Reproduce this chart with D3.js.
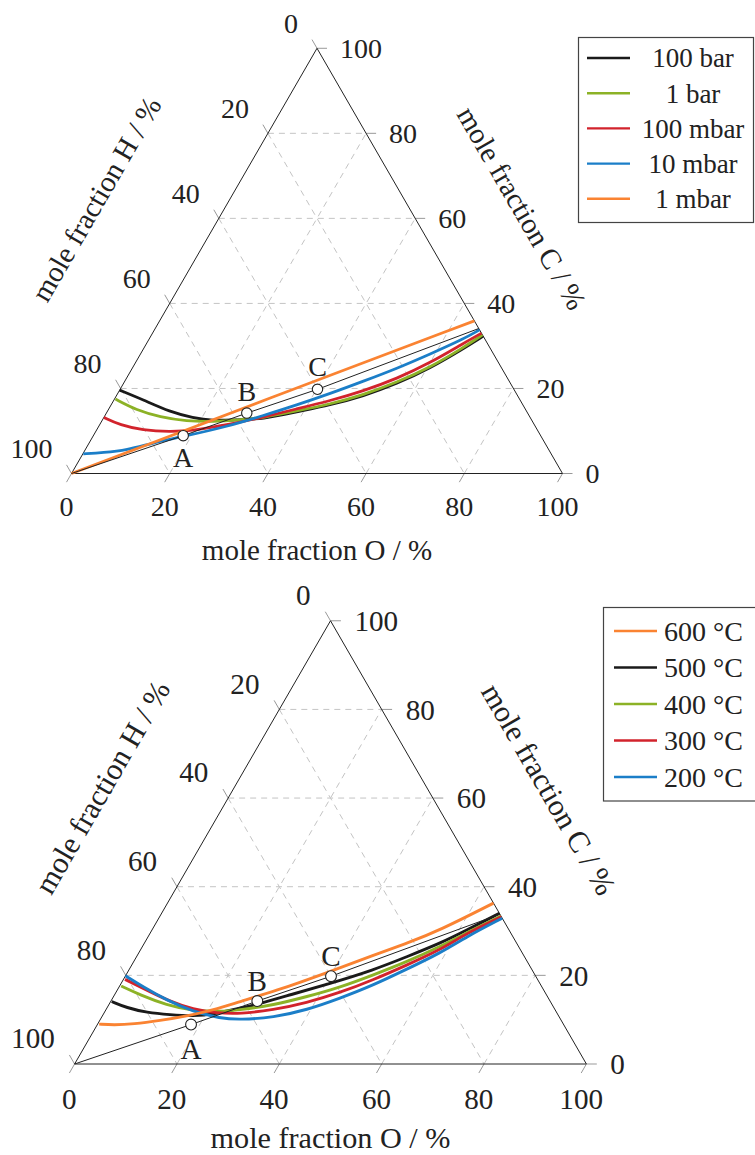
<!DOCTYPE html>
<html>
<head>
<meta charset="utf-8">
<script src="https://cdn.jsdelivr.net/npm/d3@7"></script>
<style>
  body { margin: 0; background: #fff; }
  text { font-family: "Liberation Serif", "Times New Roman", serif; fill: #222; }
</style>
</head>
<body>
<div id="svg-area"></div>
<script>
var svgWidth = 755;
var svgHeight = 1155;

// ternary axis values (percent)
var tickValues = [0, 20, 40, 60, 80, 100];
var gridValues = [20, 40, 60, 80];

// marked compositions A, B, C  [O %, C %]
var markerNames = ["A", "B", "C"];
var markerPoints = [[18.3, 8.9], [28.6, 14.2], [40.2, 19.8]];

// top chart: pressure series, points are [O %, C %]
var pressureNames = ["100 bar", "1 bar", "100 mbar", "10 mbar", "1 mbar"];
var pressureColors = ["#1a1a1a", "#8cb226", "#d2232c", "#1b7ec8", "#fa8332"];
var p100bar = [[0, 19.6], [6.0, 17.3], [12.8, 14.5], [18.2, 13.1], [22.6, 12.4], [26.6, 12.6], [32.7, 12.8],
  [38.6, 14.5], [44.6, 16.1], [50.3, 18.2], [55.7, 21.1], [60.6, 24.7], [65.1, 29.3], [67.7, 32.3]];
var p1bar = [[0.2, 17.5], [5.8, 14.9], [11.4, 13.3], [17.3, 12.3], [22.7, 12.2], [28.0, 12.6], [32.5, 13.1],
  [38.5, 14.7], [44.5, 16.3], [50.2, 18.5], [55.5, 21.4], [60.5, 24.9], [65.0, 29.6], [67.4, 32.6]];
var p100mbar = [[0, 13.2], [4.2, 11.4], [9.4, 10.2], [15.1, 9.8], [19.7, 10.1], [25.9, 11.4], [31.9, 13.1],
  [38.3, 15.2], [44.1, 17.1], [49.7, 19.4], [55.1, 22.3], [60.0, 26.0], [64.5, 30.6], [67.0, 33.0]];
var p10mbar = [[0.1, 4.6], [4.0, 4.9], [8.5, 5.5], [13.0, 7.2], [18.4, 8.7], [26.1, 11.0], [32.2, 13.6],
  [37.8, 16.1], [43.3, 18.8], [48.6, 21.7], [53.9, 24.7], [59.0, 28.1], [64.0, 31.6], [66.2, 33.8]];
var p1mbar = [[0, 0], [32.0, 18.0], [64.1, 35.9]];
var pressureTie = [[0, 0], [18.3, 8.9], [28.6, 14.2], [40.2, 19.8], [65.9, 34.1]];

// bottom chart: temperature series, points are [O %, C %]
var tempNames = ["600 °C", "500 °C", "400 °C", "300 °C", "200 °C"];
var tempColors = ["#fa8332", "#1a1a1a", "#8cb226", "#d2232c", "#1b7ec8"];
var t600 = [[0.3, 9.0], [3.2, 8.8], [7.0, 9.0], [11.8, 9.8], [16.5, 10.8], [21.0, 12.2], [25.3, 14.1],
  [30.7, 16.3], [39.6, 20.9], [46.1, 24.6], [51.3, 27.2], [56.3, 30.2], [63.7, 36.3]];
var t500 = [[0.2, 14.1], [3.8, 12.7], [8.3, 11.6], [13.1, 11.1], [17.8, 10.8], [21.5, 11.2], [26.0, 12.6],
  [29.1, 13.5], [34.3, 15.6], [40.9, 18.2], [47.8, 21.2], [52.8, 24.2], [57.8, 27.2], [61.5, 30.2], [66.0, 34.0]];
var t400 = [[0.3, 17.6], [5.0, 15.6], [11.3, 13.3], [17.2, 12.0], [22.5, 11.8], [26.2, 12.2], [32.2, 13.3],
  [37.8, 15.2], [43.2, 17.3], [48.3, 20.1], [53.4, 23.1], [58.2, 26.5], [62.3, 30.0], [66.6, 33.4]];
var t300 = [[0.3, 19.1], [5.7, 16.7], [11.6, 14.1], [17.0, 12.3], [22.0, 11.5], [26.7, 11.3], [32.7, 12.2],
  [38.4, 13.8], [43.8, 16.1], [48.9, 19.0], [53.7, 22.3], [58.5, 25.7], [61.9, 29.5], [66.8, 33.2]];
var t200 = [[0, 19.9], [4.7, 17.4], [10.8, 14.4], [17.3, 11.8], [23.3, 10.3], [27.3, 10.0], [33.6, 10.5],
  [39.3, 12.2], [44.4, 14.8], [49.5, 17.8], [54.2, 21.4], [58.9, 25.0], [62.2, 28.7], [67.1, 32.9]];
var tempTie = [[0, 0], [18.3, 8.9], [28.6, 14.2], [40.2, 19.8], [66.2, 33.8]];

var svg = d3.select("#svg-area").append("svg")
  .attr("width", svgWidth)
  .attr("height", svgHeight)
  .style("background", "#fff");

var SQ3 = Math.sqrt(3) / 2;

function drawTernary(opt) {
  var k = opt.scale;
  var W = opt.width;
  var xScale = d3.scaleLinear().domain([0, 100]).range([opt.left, opt.left + W]);
  var yScale = d3.scaleLinear().domain([0, 100]).range([opt.base, opt.base - W * SQ3]);
  // [O, C] -> pixel
  function px(d) { return [xScale(d[0] + d[1] / 2), yScale(d[1])]; }
  var g = svg.append("g");

  // dashed grid
  var grid = [];
  gridValues.forEach(function(v) {
    grid.push([[0, v], [100 - v, v]]);       // const C
    grid.push([[v, 0], [v, 100 - v]]);       // const O
    grid.push([[0, 100 - v], [100 - v, 0]]); // const H
  });
  g.selectAll(".grid").data(grid).enter().append("line")
    .attr("x1", d => px(d[0])[0]).attr("y1", d => px(d[0])[1])
    .attr("x2", d => px(d[1])[0]).attr("y2", d => px(d[1])[1])
    .attr("stroke", "#c4c4c4").attr("stroke-width", 1)
    .attr("stroke-dasharray", "6,5");

  // ticks
  var tl = 10 * k;
  tickValues.forEach(function(v) {
    var pc = px([100 - v, v]), po = px([v, 0]), ph = px([0, 100 - v]);
    g.append("line").attr("x1", pc[0]).attr("y1", pc[1]).attr("x2", pc[0] + tl).attr("y2", pc[1])
      .attr("stroke", "#999").attr("stroke-width", 1);
    g.append("line").attr("x1", po[0]).attr("y1", po[1]).attr("x2", po[0] - tl * 0.5).attr("y2", po[1] + tl * SQ3)
      .attr("stroke", "#999").attr("stroke-width", 1);
    g.append("line").attr("x1", ph[0]).attr("y1", ph[1]).attr("x2", ph[0] - tl * 0.5).attr("y2", ph[1] - tl * SQ3)
      .attr("stroke", "#999").attr("stroke-width", 1);

    g.append("text").attr("x", pc[0] + 23 * k).attr("y", pc[1])
      .attr("dy", "0.35em").attr("font-size", 28 * k + "px").text(v);
    g.append("text").attr("x", po[0] - 5 * k).attr("y", po[1] + 33 * k)
      .attr("dy", "0.35em").attr("text-anchor", "middle").attr("font-size", 28 * k + "px").text(v);
    g.append("text").attr("x", ph[0] - 19 * k).attr("y", ph[1] - 25 * k)
      .attr("dy", "0.35em").attr("text-anchor", "end").attr("font-size", 28 * k + "px").text(v);
  });

  // triangle outline
  var corners = [[0, 0], [100, 0], [0, 100]].map(px);
  g.append("path")
    .attr("d", d3.line()(corners) + "Z")
    .attr("fill", "none").attr("stroke", "#222").attr("stroke-width", 1);

  // axis titles
  var apexX = xScale(50), baseY = yScale(0);
  g.append("text").attr("x", apexX).attr("y", baseY + opt.oTitleDy).attr("dy", "0.35em")
    .attr("text-anchor", "middle").attr("font-size", 29 * k + "px").text("mole fraction O / %");
  g.append("text")
    .attr("transform", "translate(" + opt.hTitle[0] + "," + opt.hTitle[1] + ") rotate(-60)")
    .attr("dy", "0.35em").attr("text-anchor", "middle").attr("font-size", 29 * k + "px")
    .text("mole fraction H / %");
  g.append("text")
    .attr("transform", "translate(" + opt.cTitle[0] + "," + opt.cTitle[1] + ") rotate(60)")
    .attr("dy", "0.35em").attr("text-anchor", "middle").attr("font-size", 29 * k + "px")
    .text("mole fraction C / %");

  // curves (smoothed B-spline through the read points)
  var line = d3.line().x(d => px(d)[0]).y(d => px(d)[1]).curve(d3.curveBasis);
  opt.order.forEach(function(i) {
    g.append("path").attr("d", line(opt.series[i]))
      .attr("fill", "none").attr("stroke", opt.colors[i]).attr("stroke-width", 2.8 * k)
      .attr("stroke-linecap", "butt");
  });

  // thin tie line through A, B, C
  g.append("path").attr("d", d3.line().x(d => px(d)[0]).y(d => px(d)[1])(opt.tie))
    .attr("fill", "none").attr("stroke", "#222").attr("stroke-width", 1);

  // markers
  markerPoints.forEach(function(d, i) {
    var p = px(d);
    g.append("circle").attr("cx", p[0]).attr("cy", p[1]).attr("r", 5.2 * k)
      .attr("fill", "#fff").attr("stroke", "#222").attr("stroke-width", 1.1);
    g.append("text").attr("x", p[0]).attr("y", p[1] + opt.labelDy[i] * k).attr("dy", "0.35em")
      .attr("text-anchor", "middle").attr("font-size", 28 * k + "px").text(markerNames[i]);
  });

  // legend
  var L = opt.legend;
  g.append("rect").attr("x", L.x).attr("y", L.y).attr("width", L.w).attr("height", L.h)
    .attr("fill", "#fff").attr("stroke", "#444").attr("stroke-width", 1.2);
  opt.names.forEach(function(name, i) {
    var yy = L.y0 + i * L.step;
    g.append("line").attr("x1", L.lx1).attr("x2", L.lx2).attr("y1", yy).attr("y2", yy)
      .attr("stroke", opt.colors[i]).attr("stroke-width", 2.4);
    g.append("text").attr("x", L.tx).attr("y", yy).attr("dy", "0.35em")
      .attr("text-anchor", L.anchor).attr("font-size", L.fs + "px").text(name);
  });
}

drawTernary({
  left: 71.5, base: 473.5, width: 491, scale: 1,
  series: [p100bar, p1bar, p100mbar, p10mbar, p1mbar],
  colors: pressureColors, names: pressureNames,
  order: [0, 1, 2, 3, 4],
  tie: pressureTie,
  labelDy: [22, -22, -23],
  oTitleDy: 76,
  hTitle: [96, 199], cTitle: [522, 208],
  legend: { x: 578.5, y: 37.5, w: 175, h: 185, y0: 58, step: 35.2, lx1: 587, lx2: 630, tx: 693, anchor: "middle", fs: 27 }
});

drawTernary({
  left: 74.6, base: 1064, width: 511.8, scale: 1.042,
  series: [t600, t500, t400, t300, t200],
  colors: tempColors, names: tempNames,
  order: [1, 2, 3, 4, 0],
  tie: tempTie,
  labelDy: [23, -19, -20],
  oTitleDy: 73,
  hTitle: [102, 787], cTitle: [549, 789],
  legend: { x: 603.5, y: 607.5, w: 160, h: 193.5, y0: 631, step: 36.5, lx1: 614, lx2: 657, tx: 664, anchor: "start", fs: 28 }
});
</script>
</body>
</html>
